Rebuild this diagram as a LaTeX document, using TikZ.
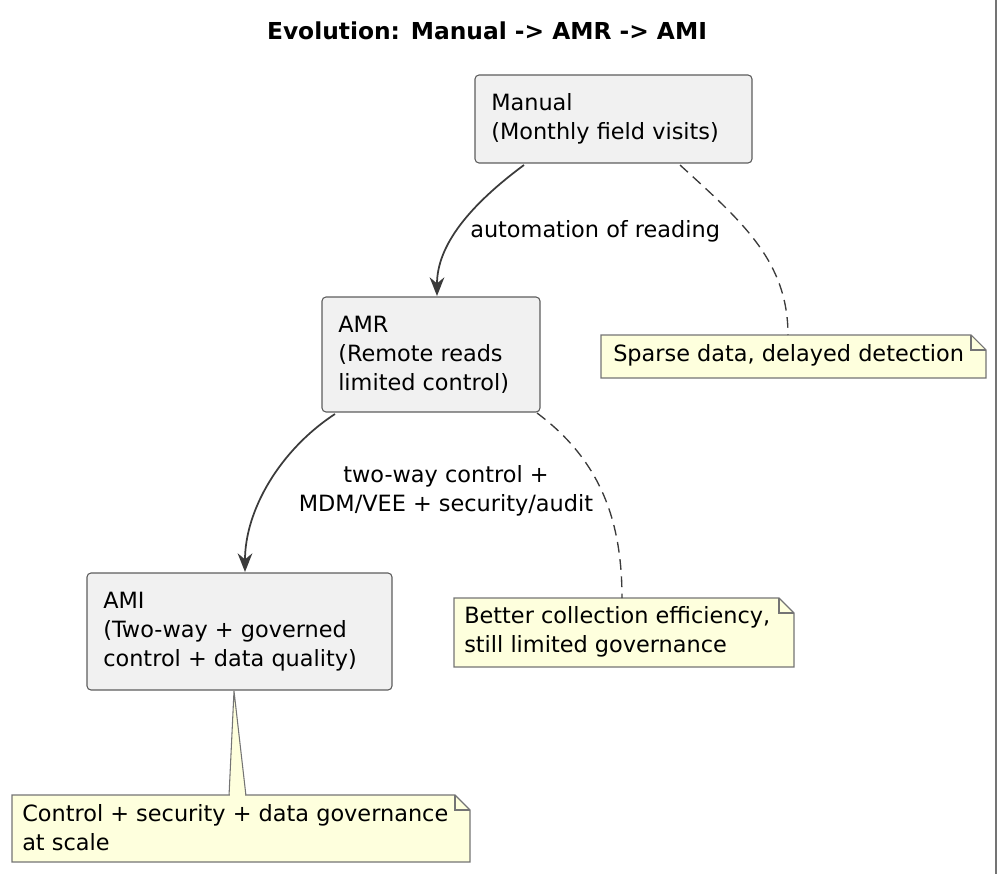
\documentclass[tikz,border=0pt]{standalone}
\usepackage{fontspec}
\setmainfont{DejaVu Sans}
\usetikzlibrary{arrows.meta}
\definecolor{boxfill}{HTML}{F1F1F1}
\definecolor{notefill}{HTML}{FEFFDD}
\definecolor{edge}{HTML}{181818}
\begin{document}
\begin{tikzpicture}[x=0.75pt,y=-0.75pt,
  box/.style={draw=edge!70,fill=boxfill,rounded corners=3pt,line width=0.8pt},
  txt/.style={align=left,anchor=north west,inner sep=0pt,font=\fontsize{16.8pt}{21.75pt}\selectfont},
  note/.style={draw=edge!60,fill=notefill,line width=0.8pt},
  arr/.style={-{Stealth[length=14pt,width=11pt]},line width=1.3pt,draw=edge!85},
  dashline/.style={dash pattern=on 8pt off 5pt,line width=1pt,draw=edge!85}]
\useasboundingbox (0,0) rectangle (997,874);
\draw[edge!60,line width=1pt] (996,0) -- (996,874);
\node[font=\bfseries\fontsize{17.5pt}{20pt}\selectfont] (title) at (487,31) {Evolution: Manual -> AMR -> AMI};
% boxes
\draw[box] (475,75) rectangle (752,163);
\node[txt] (manual) at (491,93) {Manual\\(Monthly field visits)};
\draw[box] (322,297) rectangle (540,412);
\node[txt] (amr) at (338,316) {AMR\\(Remote reads\\limited control)};
\draw[box] (87,573) rectangle (392,690);
\node[txt] (ami) at (103,592) {AMI\\(Two-way + governed\\control + data quality)};
\coordinate (m1) at (524,165); \coordinate (a1) at (437,296);
\coordinate (a2) at (335,414); \coordinate (i1) at (245,572);
% notes
\newcommand\notebox[4]{\draw[note] (#1,#2) -- (#3-15,#2) -- (#3,#2+15) -- (#3,#4) -- (#1,#4) -- cycle;
  \draw[note,fill=none] (#3-15,#2) -- (#3-15,#2+15) -- (#3,#2+15);}
\notebox{601}{335}{986}{378}
\node[txt] (n1) at (613,344) {Sparse data, delayed detection};
\notebox{454}{598}{794}{667}
\node[txt] (n2) at (464,606) {Better collection efficiency,\\still limited governance};
\draw[note] (234,691) -- (229,796) -- (246,796) -- cycle;
\notebox{12}{795}{470}{862}
\fill[notefill] (230,794) rectangle (245,798);
\node[txt] (n3) at (22,804) {Control + security + data governance\\at scale};
% connectors
\draw[arr] (m1) .. controls (470,205) and (437,245) .. (a1);
\node[txt] (l1) at (470,220) {automation of reading};
\draw[arr] (a2) .. controls (280,450) and (245,510) .. (i1);
\node[align=center,inner sep=0pt,font=\fontsize{16.8pt}{21.75pt}\selectfont] (l2) at (446,491) {two-way control +\\MDM/VEE + security/audit};
\coordinate (d1) at (680,165); \coordinate (d1e) at (788,335);
\draw[dashline] (d1) .. controls (740,220) and (788,260) .. (d1e);
\coordinate (d2) at (537,413); \coordinate (d2e) at (622,598);
\draw[dashline] (d2) .. controls (600,460) and (622,520) .. (d2e);
\end{tikzpicture}
\end{document}
